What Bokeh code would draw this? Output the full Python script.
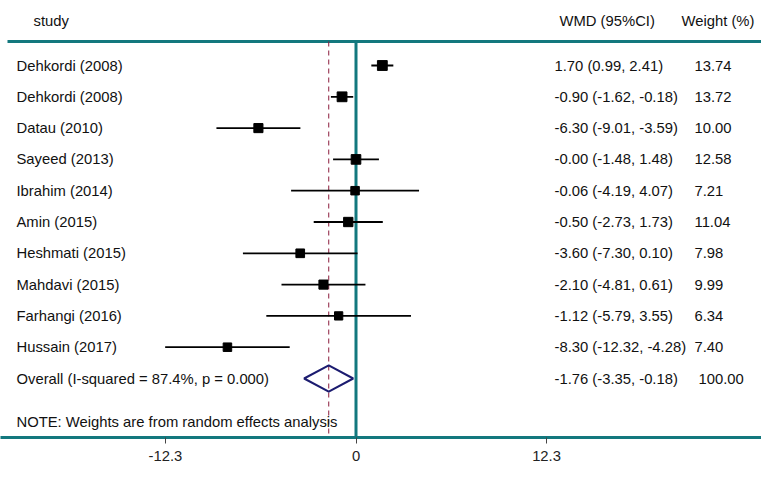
from bokeh.plotting import figure
from bokeh.models import Range1d, LinearAxis, FixedTicker, ColumnDataSource
from bokeh.core.properties import value
from bokeh.embed import file_html
from bokeh.resources import INLINE
import math

studies = ["Dehkordi (2008)", "Dehkordi (2008)", "Datau (2010)", "Sayeed (2013)",
           "Ibrahim (2014)", "Amin (2015)", "Heshmati (2015)", "Mahdavi (2015)",
           "Farhangi (2016)", "Hussain (2017)"]
wmd = [1.70, -0.90, -6.30, -0.00, -0.06, -0.50, -3.60, -2.10, -1.12, -8.30]
lower = [0.99, -1.62, -9.01, -1.48, -4.19, -2.73, -7.30, -4.81, -5.79, -12.32]
upper = [2.41, -0.18, -3.59, 1.48, 4.07, 1.73, 0.10, 0.61, 3.55, -4.28]
weights = [13.74, 13.72, 10.00, 12.58, 7.21, 11.04, 7.98, 9.99, 6.34, 7.40]
wmd_labels = ["1.70 (0.99, 2.41)", "-0.90 (-1.62, -0.18)", "-6.30 (-9.01, -3.59)",
              "-0.00 (-1.48, 1.48)", "-0.06 (-4.19, 4.07)", "-0.50 (-2.73, 1.73)",
              "-3.60 (-7.30, 0.10)", "-2.10 (-4.81, 0.61)", "-1.12 (-5.79, 3.55)",
              "-8.30 (-12.32, -4.28)"]
weight_labels = ["13.74", "13.72", "10.00", "12.58", "7.21", "11.04", "7.98", "9.99", "6.34", "7.40"]
overall = -1.76
overall_lo = -3.35
overall_hi = -0.18
overall_label = "Overall  (I-squared = 87.4%, p = 0.000)"
overall_wmd = "-1.76 (-3.35, -0.18)"
overall_weight = "100.00"
note = "NOTE: Weights are from random effects analysis"
ticks = [-12.3, 0, 12.3]

TEAL = "#13787e"
FONT = "Liberation Sans"
FS = "14.8px"
PX = 15.49  # pixels per unit
X0 = 355.5  # pixel of zero


def dx(px):
    return (px - X0) / PX


ROW0, ROWH = 65.0, 31.3


def dy(py):
    return (py - ROW0) / ROWH


p = figure(width=761, height=463, output_backend="svg", toolbar_location=None,
           x_range=Range1d(dx(0), dx(761)), y_range=Range1d(dy(437), dy(0)),
           min_border_left=0, min_border_right=0, min_border_top=0, min_border_bottom=26,
           x_axis_location=None, y_axis_location=None)
p.outline_line_color = None
p.grid.visible = False
p.background_fill_color = "white"

axis = LinearAxis(ticker=FixedTicker(ticks=ticks))
axis.axis_line_color = TEAL
axis.axis_line_width = 3
axis.major_tick_out = 6
axis.major_tick_in = 0
axis.minor_tick_out = 0
axis.minor_tick_in = 0
axis.major_tick_line_color = "#444444"
axis.major_label_standoff = 7
axis.major_label_text_font = FONT
axis.major_label_text_font_size = FS
axis.major_label_text_color = "#222222"
axis.major_label_overrides = {-12.3: "-12.3", 0: "0", 12.3: "12.3"}
p.add_layout(axis, "below")

rows = list(range(len(studies)))
src = ColumnDataSource(dict(y=rows, study=studies, wmd=wmd, lo=lower, hi=upper,
                            size=[5 + math.sqrt(w) * 1.3 for w in weights],
                            wl=wmd_labels, wt=weight_labels))

# top line
p.segment(x0=dx(7), x1=dx(767), y0=dy(41), y1=dy(41), line_color=TEAL, line_width=3)
# zero line
p.segment(x0=0, x1=0, y0=dy(41), y1=dy(437), line_color=TEAL, line_width=3)
# overall dashed line
p.segment(x0=overall, x1=overall, y0=dy(41), y1=dy(437), line_color="#8b1c3c",
          line_width=1, line_dash="5 4")

# CIs and squares
p.segment(x0="lo", x1="hi", y0="y", y1="y", source=src, line_color="black", line_width=1.8)
p.scatter(x="wmd", y="y", size="size", marker="square", source=src,
          fill_color="black", line_color="black")

# diamond
oy = len(studies)
p.patch(x=[overall_lo, overall, overall_hi, overall],
        y=[oy, oy - 0.42, oy, oy + 0.42],
        fill_color="white", fill_alpha=0, line_color="#1c1c70", line_width=2)

txt = dict(text_font=value(FONT), text_font_size=FS, text_color="#111111",
           text_baseline="middle")
p.text(x=dx(554), y="y", text="wl", source=src, **txt)
p.text(x=dx(16), y="y", text="study", source=src, **txt)
p.text(x=dx(694), y="y", text="wt", source=src, **txt)

p.text(x=[dx(16)], y=[oy], text=[overall_label], **txt)
p.text(x=[dx(554)], y=[oy], text=[overall_wmd], **txt)
p.text(x=[dx(698)], y=[oy], text=[overall_weight], **txt)
p.text(x=[dx(16)], y=[dy(421)], text=[note], **txt)

p.text(x=[dx(33)], y=[dy(20)], text=["study"], **txt)
p.text(x=[dx(559)], y=[dy(20)], text=["WMD (95%CI)"], **txt)
p.text(x=[dx(681)], y=[dy(20)], text=["Weight (%)"], **txt)

open("out.html", "w").write(file_html(p, INLINE))
